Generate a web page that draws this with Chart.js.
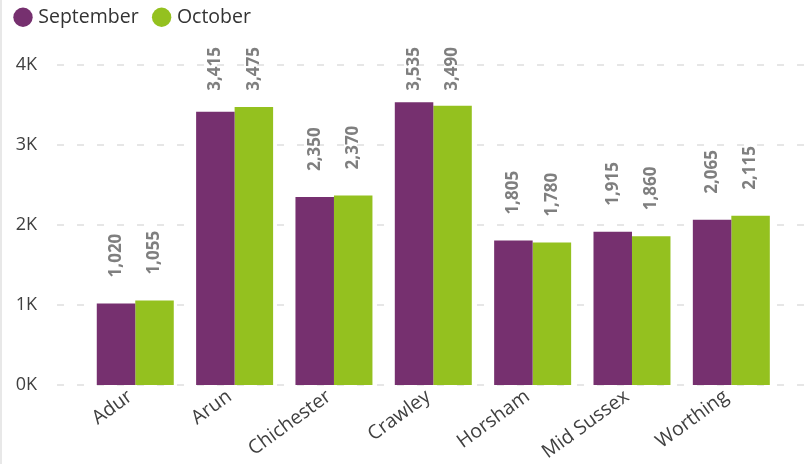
<!DOCTYPE html>
<html>
<head>
<meta charset="utf-8">
<script src="https://cdn.jsdelivr.net/npm/chart.js@4/dist/chart.umd.min.js"></script>
<style>
  html, body { margin: 0; padding: 0; background: #fff; }
  #wrap { position: relative; width: 806px; height: 464px; }
  #edge { position: absolute; left: 0; top: 0; width: 2px; height: 464px; background: #e8e8e8; }
  canvas { position: absolute; left: 0; top: 0; }
</style>
</head>
<body>
<div id="wrap">
  <canvas id="barChart" width="806" height="464"></canvas>
  <div id="edge"></div>
</div>
<script>
const districts = ['Adur', 'Arun', 'Chichester', 'Crawley', 'Horsham', 'Mid Sussex', 'Worthing'];
const september = [1020, 3415, 2350, 3535, 1805, 1915, 2065];
const october = [1055, 3475, 2370, 3490, 1780, 1860, 2115];
const yTicks = [0, 1000, 2000, 3000, 4000];

const FONT = "'Open Sans', 'Noto Sans', sans-serif";

// dashed gridlines running the full width, behind the bars
const dashGrid = {
  id: 'dashGrid',
  beforeDatasetsDraw(chart) {
    const { ctx, scales: { y } } = chart;
    ctx.save();
    ctx.strokeStyle = '#e6e6e6';
    ctx.lineWidth = 2;
    ctx.setLineDash([7, 13]);
    yTicks.forEach(v => {
      const py = Math.round(y.getPixelForValue(v));
      ctx.beginPath();
      ctx.moveTo(57, py);
      ctx.lineTo(chart.width, py);
      ctx.stroke();
    });
    ctx.restore();
  }
};

// vertical value labels above each bar
const valueLabels = {
  id: 'valueLabels',
  afterDatasetsDraw(chart) {
    const { ctx } = chart;
    ctx.save();
    ctx.font = "bold 17px " + FONT;
    ctx.fillStyle = '#7f7f7f';
    ctx.textBaseline = 'middle';
    ctx.textAlign = 'left';
    chart.data.datasets.forEach((ds, i) => {
      chart.getDatasetMeta(i).data.forEach((bar, j) => {
        const txt = ds.data[j].toLocaleString('en-US');
        const w = ctx.measureText(txt).width;
        let bottom = bar.y - 26;
        if (bottom - w < 47) bottom = 47 + w;
        ctx.save();
        ctx.translate(bar.x, bottom);
        ctx.rotate(-Math.PI / 2);
        ctx.fillText(txt, 0, 0);
        ctx.restore();
      });
    });
    ctx.restore();
  }
};

// fixed legend band height, items nudged up
const legendBand = {
  id: 'legendBand',
  afterInit(chart) {
    const lg = chart.legend;
    if (lg && !lg._banded) {
      const fit = lg.fit;
      const draw = lg.draw;
      lg.fit = function () { fit.call(this); this.height = 65; };
      lg.draw = function () {
        const c = this.ctx;
        c.save();
        c.translate(0, -10);
        draw.call(this);
        c.restore();
      };
      lg._banded = true;
    }
  }
};

const ctx = document.getElementById('barChart').getContext('2d');
const chart = new Chart(ctx, {
  type: 'bar',
  data: {
    labels: districts,
    datasets: [
      { label: 'September', data: september, backgroundColor: '#76306f' },
      { label: 'October', data: october, backgroundColor: '#94c11f' }
    ]
  },
  options: {
    responsive: false,
    animation: false,
    devicePixelRatio: 1,
    layout: { padding: { left: 0, right: 25, top: 0, bottom: 0 } },
    datasets: { bar: { categoryPercentage: 0.775, barPercentage: 1 } },
    plugins: {
      legend: {
        position: 'top',
        align: 'start',
        labels: {
          usePointStyle: true,
          pointStyle: 'circle',
          boxWidth: 11,
          boxHeight: 13.7,
          padding: 17.5,
          color: '#333',
          font: { family: FONT, size: 19.5 }
        }
      },
      tooltip: { enabled: false }
    },
    scales: {
      x: {
        grid: { display: false, drawTicks: false },
        border: { display: false },
        ticks: {
          minRotation: 36,
          maxRotation: 36,
          padding: 0,
          labelOffset: -5,
          color: '#404040',
          font: { family: FONT, size: 19.5 }
        },
        afterFit: s => { s.height = 79; }
      },
      y: {
        min: 0,
        max: 4000,
        grid: { display: false, drawTicks: false },
        border: { display: false },
        ticks: {
          stepSize: 1000,
          padding: 48.6,
          color: '#404040',
          font: { family: FONT, size: 18 },
          callback: v => (v / 1000) + 'K'
        },
        afterFit: s => { s.width = 85.6; }
      }
    }
  },
  plugins: [dashGrid, valueLabels, legendBand]
});
</script>
</body>
</html>
